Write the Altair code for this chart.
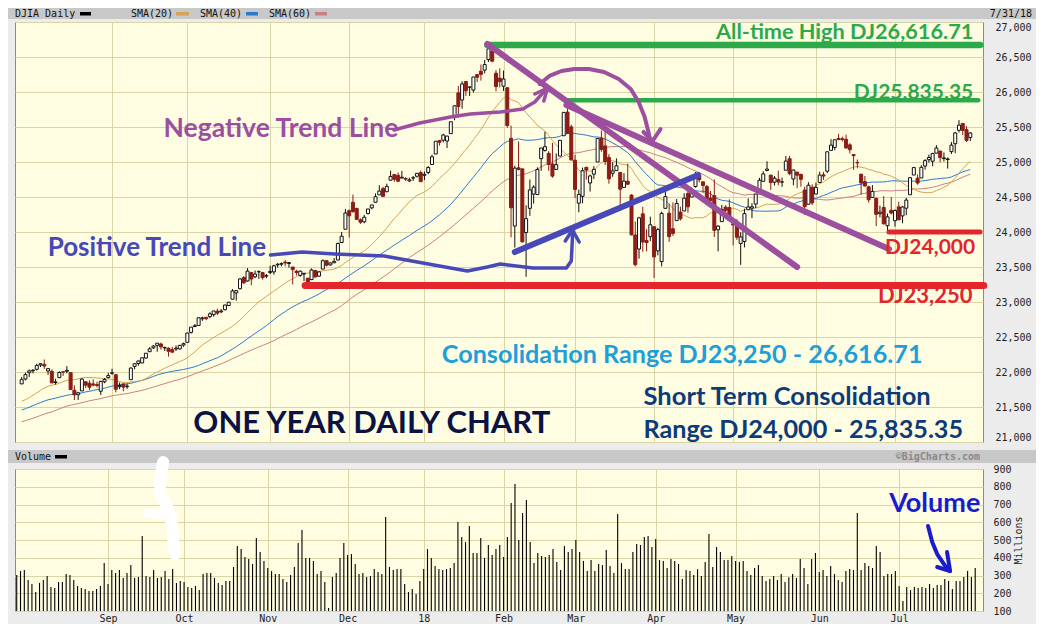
import altair as alt
import pandas as pd

# ---------------- data (trading-day index 0 = 7/31/17 ... 252 = 7/31/18) ----------------
prior_closes = [  # May 1 - Jul 28 2017, only used to start the moving averages
    20913, 20950, 20957, 20951, 21006, 21012, 20975, 20943, 20919, 20896, 20981, 20979, 20606, 20663, 20804, 20894, 20937, 20937, 21082, 21080, 21029, 21008,
    21144, 21206, 21184, 21136, 21173, 21182, 21271, 21235, 21328, 21374, 21359, 21384, 21528, 21467, 21410, 21397, 21395, 21409, 21310, 21454, 21287, 21350,
    21479, 21478, 21320, 21414, 21409, 21409, 21532, 21553, 21638, 21630, 21574, 21641, 21611, 21580, 21513, 21613, 21711, 21797, 21830,
]

opens = [
    21830,
    21900, 21990, 22017, 22038, 22100, 22110, 22015, 22010, 21850, 21920, 22003, 22010, 21990, 21740, 21675, 21730, 21860, 21840, 21830, 21820, 21725, 21860, 21920,
    21982, 21961, 21790, 21830, 21790, 21890, 22080, 22122, 22130, 22200, 22290, 22345, 22380, 22400, 22345, 22340, 22320, 22330, 22330, 22385,
    22423, 22565, 22650, 22665, 22760, 22780, 22790, 22820, 22870, 22860, 22890, 22950, 23040, 23130, 23190, 23350, 23300, 23420, 23360, 23430, 23420, 23370,
    23420, 23430, 23530, 23540, 23570, 23550, 23500, 23440, 23380, 23400, 23340, 23320, 23450, 23370, 23470, 23590, 23530, 23560, 23600, 23850, 24040,
    24305, 24424, 24335, 24175, 24145, 24265, 24345, 24425, 24530, 24620, 24575, 24740, 24820, 24810, 24770, 24765, 24729, 24771, 24796, 24849,
    24810, 24850, 24964, 25114, 25308, 25312, 25300, 25405, 25637, 25987, 25886, 26149, 26070, 26027, 26248, 26297, 26313, 26462, 26584, 26269, 26198,
    26083, 26061, 25338, 24085, 24917, 24902, 23992, 24338, 24541, 24535, 25048, 25165, 25124, 24972, 24894, 25084, 25375, 25713, 25502,
    25025, 24411, 24510, 24925, 24700, 24826, 25000, 25340, 25230, 25065, 24839, 24877, 24851, 24637, 24725, 24527, 23957, 23757, 24259, 23879, 23933,
    24076, 23730, 23578, 24338, 24269, 24046, 24163, 24285, 24300, 24552, 24500, 24650, 24811, 24717, 24651, 24484, 24519, 24032, 24148, 24356, 24349,
    24117, 24097, 23836, 23865, 24318, 24341, 24399, 24591, 24724, 24879, 24813, 24712, 24751, 24713, 24883, 25047, 24757, 24856, 24823, 24600, 24396, 24638,
    24542, 24708, 24817, 24869, 25166, 25208, 25337, 25333, 25324, 25245, 25107, 24994, 24826, 24719, 24645, 24494, 24483, 24263, 24351, 24090, 24310,
    24162, 24359, 24230, 24340, 24532, 24814, 24769, 24772, 24942, 25033, 25011, 25127, 25157, 25049, 25036, 25148, 25261, 25453, 25551, 25462, 25350,
]
highs = [
    21929,
    21990, 22036, 22041, 22118, 22123, 22179, 22053, 22035, 21905, 22010, 22014, 22084, 22000, 21810, 21717, 21910, 21870, 21880, 21895, 21860, 21875, 21915, 21988,
    22045, 21962, 21850, 21830, 21836, 22063, 22121, 22160, 22204, 22268, 22355, 22383, 22413, 22420, 22363, 22350, 22360, 22380, 22384, 22420,
    22558, 22643, 22685, 22777, 22790, 22790, 22855, 22872, 22905, 22900, 22960, 23002, 23185, 23165, 23340, 23370, 23485, 23430, 23450, 23450, 23430, 23400,
    23517, 23532, 23557, 23565, 23603, 23565, 23500, 23460, 23450, 23410, 23340, 23480, 23460, 23440, 23610, 23600, 23570, 23630, 23850, 24000, 24330,
    24322, 24534, 24349, 24193, 24245, 24330, 24387, 24552, 24669, 24646, 24690, 24876, 24831, 24850, 24872, 24784, 24777, 24800, 24839, 24877,
    24864, 24941, 25105, 25299, 25311, 25403, 25374, 25575, 25808, 26086, 26153, 26154, 26072, 26215, 26250, 26392, 26458, 26617, 26609, 26313, 26338,
    26307, 26062, 25520, 24946, 25294, 24904, 24382, 24750, 24668, 24924, 25200, 25432, 25155, 25274, 25122, 25310, 25709, 25800, 25532,
    25104, 24605, 24920, 24925, 24819, 24941, 25336, 25449, 25450, 25114, 25000, 25052, 24858, 24840, 24977, 24541, 24150, 24217, 24360, 24042, 24219,
    24076, 24061, 24290, 24623, 24405, 24423, 24472, 24363, 24553, 24622, 24633, 24858, 24852, 24717, 24668, 24586, 24752, 24099, 24387, 24383, 24466,
    24117, 24185, 23996, 24333, 24480, 24412, 24543, 24774, 24868, 25011, 24813, 24801, 24876, 24777, 25086, 25087, 24889, 24856, 24833, 24648, 24712, 24680,
    24707, 24862, 24859, 25147, 25326, 25317, 25402, 25362, 25390, 25270, 25107, 25036, 24826, 24800, 24663, 24670, 24483, 24377, 24512, 24263, 24500,
    24321, 24433, 24369, 24488, 24783, 24931, 24822, 24955, 25041, 25105, 25133, 25241, 25157, 25136, 25064, 25284, 25431, 25598, 25556, 25513, 25426,
]
lows = [
    21830,
    21880, 21929, 21981, 22023, 22071, 22043, 21960, 21844, 21820, 21913, 21944, 21981, 21750, 21600, 21600, 21730, 21770, 21740, 21795, 21780, 21673, 21840, 21910,
    21960, 21709, 21755, 21725, 21760, 21890, 22038, 22091, 22125, 22190, 22285, 22330, 22290, 22320, 22300, 22220, 22270, 22300, 22320, 22360,
    22423, 22550, 22640, 22660, 22730, 22740, 22770, 22790, 22815, 22840, 22880, 22940, 23040, 23020, 23180, 23260, 23290, 23240, 23340, 23330, 23320, 23340,
    23400, 23390, 23490, 23510, 23510, 23490, 23250, 23380, 23360, 23300, 23240, 23320, 23350, 23360, 23470, 23510, 23520, 23560, 23600, 23840, 24040,
    23922, 24278, 24170, 24116, 24125, 24250, 24325, 24425, 24530, 24508, 24570, 24740, 24718, 24715, 24770, 24728, 24715, 24730, 24780, 24719,
    24741, 24825, 24963, 25114, 25235, 25280, 25201, 25405, 25597, 25634, 25762, 25944, 25943, 25992, 26143, 26163, 26265, 26428, 26425, 26010, 26065,
    26015, 25490, 23924, 23778, 24882, 23849, 23360, 24231, 24407, 24534, 24875, 25149, 24874, 24775, 24894, 25084, 25375, 25400, 25029,
    24486, 24283, 24410, 24747, 24578, 24758, 25000, 25147, 24957, 24690, 24789, 24877, 24340, 24637, 24670, 23956, 23510, 23620, 23715, 23723, 23869,
    23344, 23667, 23509, 24338, 23858, 23943, 24163, 24165, 24300, 24276, 24500, 24633, 24708, 24556, 24406, 24410, 23928, 23724, 24148, 24232, 24163,
    23808, 23886, 23531, 23779, 24317, 24198, 24340, 24591, 24724, 24867, 24601, 24665, 24667, 24645, 24883, 24810, 24667, 24626, 24647, 24242, 24396, 24384,
    24542, 24708, 24745, 24841, 25166, 25167, 25311, 25294, 25189, 25122, 24889, 24910, 24533, 24650, 24420, 24494, 24084, 24210, 24108, 24005, 24250,
    24077, 24174, 24125, 24240, 24532, 24814, 24676, 24772, 24892, 24991, 24939, 25127, 24996, 25006, 24906, 25115, 25126, 25421, 25385, 25286, 25300,
]
closes = [
    21891,
    21963, 22016, 22026, 22092, 22118, 22085, 22048, 21844, 21858, 21993, 21998, 22024, 21750, 21674, 21703, 21899, 21812, 21783, 21813, 21808, 21865, 21892, 21948,
    21988, 21754, 21808, 21784, 21798, 22057, 22118, 22158, 22203, 22268, 22331, 22370, 22412, 22359, 22349, 22296, 22284, 22340, 22381, 22405,
    22557, 22641, 22661, 22775, 22773, 22761, 22831, 22872, 22841, 22871, 22957, 22997, 23158, 23163, 23329, 23274, 23441, 23329, 23400, 23434, 23348, 23377,
    23436, 23517, 23539, 23548, 23557, 23563, 23462, 23422, 23440, 23410, 23272, 23458, 23358, 23430, 23590, 23526, 23558, 23580, 23836, 23940, 24272,
    24231, 24290, 24180, 24140, 24211, 24329, 24386, 24504, 24585, 24509, 24651, 24792, 24754, 24726, 24782, 24754, 24746, 24775, 24838, 24719,
    24824, 24922, 25075, 25296, 25283, 25386, 25370, 25575, 25803, 25792, 26116, 26017, 26071, 26214, 26211, 26252, 26392, 26617, 26440, 26077, 26149,
    26186, 25521, 24346, 24912, 24893, 23860, 24191, 24601, 24640, 24893, 25200, 25219, 24965, 24798, 24963, 25310, 25709, 25410, 25029,
    24608, 24538, 24875, 24885, 24801, 24895, 25336, 25179, 25008, 24759, 24873, 24946, 24611, 24727, 24683, 23958, 23533, 24202, 23857, 23849, 24103,
    23644, 24034, 24265, 24505, 23933, 23979, 24408, 24189, 24483, 24360, 24573, 24787, 24748, 24665, 24463, 24449, 24024, 24084, 24322, 24311, 24163,
    24100, 23925, 23930, 24263, 24358, 24361, 24543, 24740, 24831, 24899, 24706, 24769, 24714, 24715, 25013, 24834, 24886, 24812, 24753, 24362, 24668, 24416,
    24635, 24813, 24799, 25146, 25241, 25317, 25322, 25320, 25201, 25175, 25090, 24987, 24700, 24657, 24461, 24580, 24253, 24284, 24117, 24216, 24271,
    24307, 24174, 24357, 24456, 24776, 24920, 24700, 24924, 25019, 25064, 25120, 25199, 25065, 25058, 25044, 25241, 25415, 25527, 25451, 25307, 25415,
]
# volume, millions of shares
vol_2017 = [
    303, 325, 331, 275, 252, 207, 258, 275, 297, 235, 230, 263, 263, 308, 303, 275, 241, 230, 224, 213,
    213, 224, 241, 370, 252, 331, 314, 331, 286, 314, 359, 286, 292, 523, 297, 292, 331, 286, 292, 325,
    280, 336, 258, 269, 263, 235, 230, 241, 218, 308, 314, 314, 286, 258, 247, 269, 269, 348, 466, 449,
    404, 393, 365, 511, 432, 382, 342, 325, 308, 308, 280, 263, 303, 348, 483, 556, 399, 399, 382, 308,
    325, 263, 117, 292, 314, 399, 483, 415, 421, 365, 308, 314, 292, 297, 336, 320, 308, 630, 348, 331,
    336, 336, 252, 207, 224, 196, 269, 336, 449, 399, 354, 336, 331, 336, 342, 370, 601, 517, 489, 579,
    427, 427, 511, 399, 472, 415, 449, 472, 404, 517, 708, 815, 500,
]
vol_2018 = [
    652, 725, 489, 370, 427, 410, 404, 415, 449, 376, 331, 466, 432, 449, 500, 432, 382, 325, 387, 325,
    365, 359, 444, 354, 314, 647, 370, 336, 336, 432, 478, 472, 517, 523, 461, 506, 387, 382, 342, 393,
    382, 365, 280, 331, 325, 303, 336, 297, 376, 534, 348, 461, 432, 387, 387, 410, 382, 376, 382, 325,
    303, 342, 359, 297, 269, 280, 297, 275, 308, 263, 290, 308, 286, 393, 342, 252, 393, 427, 320, 331,
    297, 354, 308, 275, 263, 325, 336, 331, 652, 331, 370, 354, 342, 466, 432, 297, 308, 308, 325, 241,
    156, 235, 218, 235, 230, 235, 230, 252, 230, 247, 247, 280, 269, 224, 269, 269, 292, 325, 292, 342,
]
volumes = vol_2017 + vol_2018

month_idx = [24, 44, 66, 87, 107, 128, 147, 168, 189, 211, 232]
month_lbl = ["Sep", "Oct", "Nov", "Dec", "18", "Feb", "Mar", "Apr", "May", "Jun", "Jul"]
price_ticks = list(range(21000, 27001, 500))
vol_ticks = list(range(100, 901, 100))

N = len(closes)
for nm, arr in (("opens", opens), ("highs", highs), ("lows", lows), ("volumes", volumes)):
    if len(arr) != N:
        raise ValueError(f"{nm} has {len(arr)} values, closes has {N}")

df = pd.DataFrame({"i": list(range(N)), "o": opens, "h": highs, "l": lows, "c": closes, "v": volumes})
sma_src = pd.DataFrame({"i": list(range(-len(prior_closes), N)), "c": prior_closes + closes})

# ---------------- hand-drawn annotations (in data units: day index, price / volume) ----------------
GREEN, RED, PURPLE, TBLUE = "#2caa4a", "#e2262b", "#9c4e9f", "#4848b9"
hlines = pd.DataFrame([
    {"i1": 123.7, "i2": 254.6, "p": 26671, "c": GREEN, "w": 6.5},
    {"i1": 144.7, "i2": 254.1, "p": 25881, "c": GREEN, "w": 4.5},
    {"i1": 230.4, "i2": 254.6, "p": 24000, "c": RED, "w": 5},
    {"i1": 75.3, "i2": 255.6, "p": 23235, "c": RED, "w": 7},
])
price_paths = {
    ("negA", PURPLE, 6): [(123.7, 26686), (206.0, 23500)],
    ("negB", PURPLE, 6): [(144.7, 25814), (230.4, 23757)],
    ("pos", TBLUE, 6): [(131.0, 23714), (179.7, 24814)],
    ("c1", PURPLE, 3.5): [(98.9, 25457), (105.7, 25557), (113.9, 25643), (119.2, 25686), (127.1, 25714),
                          (133.1, 25757), (136.3, 25857), (138.9, 26014)],
    ("h1", PURPLE, 3.5): [(136.3, 25971), (139.7, 26057), (138.7, 25871)],
    ("c2", PURPLE, 4): [(137.6, 26114), (140.2, 26229), (143.4, 26300), (146.8, 26329), (150.7, 26329),
                        (154.7, 26286), (158.6, 26186), (161.8, 26043), (163.9, 25857), (165.5, 25643),
                        (166.5, 25429), (167.0, 25300)],
    ("h2", PURPLE, 4): [(165.2, 25429), (167.6, 25300), (169.7, 25471)],
    ("bc", TBLUE, 3.5): [(66.1, 23671), (74.5, 23714), (83.2, 23686), (96.3, 23657), (109.5, 23529),
                         (118.4, 23443), (123.7, 23500), (127.1, 23543), (135.8, 23486), (144.7, 23486),
                         (146.0, 23586), (146.3, 23900), (146.3, 24014)],
    ("bh", TBLUE, 3.5): [(144.4, 23871), (146.3, 24029), (148.1, 23857)],
}
vol_paths = {
    ("w1", "#ffffff", 12): [(38.5, 939), (37.7, 844), (37.7, 759), (39.5, 692), (40.8, 590), (41.1, 506), (41.6, 421)],
    ("w2", "#ffffff", 9): [(34.5, 650), (41.0, 640)],
    ("va", "#1a1acf", 4): [(239.6, 579), (240.7, 489), (242.0, 421), (244.1, 354), (245.4, 325)],
    ("vh", "#1a1acf", 4): [(244.6, 432), (245.4, 325), (242.0, 348)],
}


def paths_df(paths):
    rows = []
    for (g, col, w), pts in paths.items():
        for k, (i, p) in enumerate(pts):
            rows.append({"g": g, "k": k, "i": i, "p": p, "c": col, "w": w})
    return pd.DataFrame(rows)


texts_left = pd.DataFrame([
    {"t": "Negative Trend Line", "i": 37.7, "p": 25357, "c": PURPLE, "fs": 26.5},
    {"t": "Positive Trend Line", "i": 6.9, "p": 23657, "c": TBLUE, "fs": 26},
    {"t": "Consolidation Range DJ23,250 - 26,616.71", "i": 111.6, "p": 22129, "c": "#1e9fd9", "fs": 25.2},
    {"t": "Short Term Consolidation", "i": 165.2, "p": 21529, "c": "#0d3b79", "fs": 25.5},
    {"t": "Range DJ24,000 - 25,835.35", "i": 165.2, "p": 21057, "c": "#0d3b79", "fs": 25.2},
    {"t": "ONE YEAR DAILY CHART", "i": 45.6, "p": 21129, "c": "#0c1244", "fs": 31},
])
texts_right = pd.DataFrame([
    {"t": "All-time High DJ26,616.71", "i": 252.8, "p": 26757, "c": GREEN, "fs": 21.7},
    {"t": "DJ25,835.35", "i": 252.8, "p": 25900, "c": GREEN, "fs": 21},
    {"t": "DJ24,000", "i": 253.3, "p": 23686, "c": RED, "fs": 21},
    {"t": "DJ23,250", "i": 252.6, "p": 22986, "c": RED, "fs": 22},
])
vol_text = pd.DataFrame([{"t": "Volume", "i": 229.4, "p": 658, "c": "#1a1acf", "fs": 27}])

# ---------------- styles ----------------
PLOT_BG = "#fefde2"
GRID = "#d9d5a6"
MONO = "DejaVu Sans Mono"
DOWN = "#8b1d16"
C20, C40, C60 = "#d4a355", "#2f78d0", "#c98080"
BAR = "#c8c8c8"

xs = alt.Scale(domain=[-0.45, 254.05], nice=False, zero=False)
ys = alt.Scale(domain=[21000, 27000], nice=False, zero=False)
vs = alt.Scale(domain=[100, 900], nice=False, zero=False)

lbl_expr = " : ".join(f"datum.value == {v} ? '{t}'" for v, t in zip(month_idx, month_lbl)) + " : ''"

ax_x_price = alt.Axis(values=month_idx, grid=True, gridColor=GRID, gridOpacity=1, labels=False,
                      ticks=False, domain=False, title=None)
ax_y_price = alt.Axis(orient="right", values=price_ticks, format=",d", grid=True, gridColor=GRID, gridOpacity=1,
                      ticks=False, domain=False, labelPadding=12, labelFont=MONO, labelFontSize=10,
                      labelColor="#222222", labelFlush=True, labelFlushOffset=0, title=None)
ax_x_vol = alt.Axis(values=month_idx, grid=True, gridColor=GRID, gridOpacity=1, labelExpr=lbl_expr,
                    ticks=False, domain=False, labelPadding=2, labelFont=MONO, labelFontSize=10,
                    labelColor="#222222", title=None)
ax_y_vol = alt.Axis(orient="right", values=vol_ticks, format="d", grid=True, gridColor=GRID, gridOpacity=1,
                    ticks=False, domain=False, labelPadding=10, labelFont=MONO, labelFontSize=10,
                    labelColor="#222222", title="Millions", titleAngle=270, titleFont=MONO,
                    titleFontSize=10, titleFontWeight="normal", titleColor="#222222", titlePadding=12)


def X(f):
    return alt.X(f, scale=xs, axis=ax_x_price)


def Y(f):
    return alt.Y(f, scale=ys, axis=ax_y_price)


def XV(f):
    return alt.X(f, scale=xs, axis=ax_x_vol)


def YV(f):
    return alt.Y(f, scale=vs, axis=ax_y_vol)


up = "datum.c >= datum.o"

# ---------------- price panel ----------------
sma = (alt.Chart(sma_src)
       .transform_window(s20="mean(c)", frame=[-19, 0], sort=[alt.SortField("i")])
       .transform_window(s40="mean(c)", frame=[-39, 0], sort=[alt.SortField("i")])
       .transform_window(s60="mean(c)", frame=[-59, 0], sort=[alt.SortField("i")])
       .transform_filter("datum.i >= 0"))
l60 = sma.mark_line(color=C60, strokeWidth=1).encode(x=X("i:Q"), y=Y("s60:Q"))
l40 = sma.mark_line(color=C40, strokeWidth=1).encode(x=X("i:Q"), y=Y("s40:Q"))
l20 = sma.mark_line(color=C20, strokeWidth=1).encode(x=X("i:Q"), y=Y("s20:Q"))

wicks = alt.Chart(df).mark_rule(strokeWidth=1).encode(
    x=X("i:Q"), y=Y("l:Q"), y2="h:Q",
    color=alt.condition(up, alt.value("#111111"), alt.value(DOWN)))
bodies = alt.Chart(df).mark_bar(size=3, strokeWidth=1).encode(
    x=X("i:Q"), y=Y("o:Q"), y2="c:Q",
    fill=alt.condition(up, alt.value("#ffffff"), alt.value(DOWN)),
    stroke=alt.condition(up, alt.value("#111111"), alt.value(DOWN)))

hl = alt.Chart(hlines).mark_rule(strokeCap="round").encode(
    x=X("i1:Q"), x2="i2:Q", y=Y("p:Q"),
    color=alt.Color("c:N", scale=None), strokeWidth=alt.StrokeWidth("w:Q", scale=None))
pp = alt.Chart(paths_df(price_paths)).mark_line(strokeCap="round", strokeJoin="round").encode(
    x=X("i:Q"), y=Y("p:Q"), detail="g:N", order="k:Q",
    color=alt.Color("c:N", scale=None), strokeWidth=alt.StrokeWidth("w:Q", scale=None))
tl = alt.Chart(texts_left).mark_text(font="Lato", fontWeight="bold", align="left", baseline="alphabetic").encode(
    x=X("i:Q"), y=Y("p:Q"), text="t:N", color=alt.Color("c:N", scale=None), size=alt.Size("fs:Q", scale=None))
tr = alt.Chart(texts_right).mark_text(font="Lato", fontWeight="bold", align="right", baseline="alphabetic").encode(
    x=X("i:Q"), y=Y("p:Q"), text="t:N", color=alt.Color("c:N", scale=None), size=alt.Size("fs:Q", scale=None))

price = alt.layer(l60, l40, l20, wicks, bodies, hl, pp, tl, tr).properties(
    width=968, height=420, view=alt.ViewBackground(fill=PLOT_BG, stroke="#8a8a8a", strokeWidth=1))

# ---------------- volume panel ----------------
vbars = alt.Chart(df).mark_rule(color="#000000", strokeWidth=1.1).encode(
    x=XV("i:Q"), y=YV("v:Q"), y2=alt.datum(100))
vp = alt.Chart(paths_df(vol_paths)).mark_line(strokeCap="round", strokeJoin="round").encode(
    x=XV("i:Q"), y=YV("p:Q"), detail="g:N", order="k:Q",
    color=alt.Color("c:N", scale=None), strokeWidth=alt.StrokeWidth("w:Q", scale=None))
vt = alt.Chart(vol_text).mark_text(font="Lato", fontWeight="bold", align="left", baseline="alphabetic").encode(
    x=XV("i:Q"), y=YV("p:Q"), text="t:N", color=alt.Color("c:N", scale=None), size=alt.Size("fs:Q", scale=None))
volume = alt.layer(vbars, vp, vt).properties(
    width=968, height=142, view=alt.ViewBackground(fill=PLOT_BG, stroke="#8a8a8a", strokeWidth=1))

# ---------------- header bars ----------------
one = pd.DataFrame({"k": [0]})


def txt(s, x, y, align="left", weight="normal", color="#111111"):
    return alt.Chart(one).mark_text(font=MONO, fontSize=10, align=align, baseline="middle",
                                    fontWeight=weight, color=color).encode(
        x=alt.value(x), y=alt.value(y), text=alt.value(s))


def box(x1, x2, y1, y2, color):
    return alt.Chart(one).mark_rect(color=color).encode(
        x=alt.value(x1), x2=alt.value(x2), y=alt.value(y1), y2=alt.value(y2))


header1 = alt.layer(
    box(-7, 1021, 0, 11, BAR),
    txt("DJIA Daily", 0, 5.5), box(65, 76, 4, 7.5, "#000000"),
    txt("SMA(20)", 116, 5.5), box(161, 174, 4, 7.5, C20),
    txt("SMA(40)", 185, 5.5), box(231, 243, 4, 7.5, C40),
    txt("SMA(60)", 254, 5.5), box(300, 312, 4, 7.5, C60),
    txt("7/31/18", 1017, 5.5, align="right"),
).properties(width=1014, height=14, view=alt.ViewBackground(strokeOpacity=0))

header2 = alt.layer(
    box(-7, 1021, 8, 21, BAR),
    txt("Volume", 0, 14.5), box(40, 52, 13, 16.5, "#000000"),
    txt("\u00a9BigCharts.com", 965, 14.5, align="right", weight="bold", color="#888888"),
).properties(width=1014, height=27, view=alt.ViewBackground(strokeOpacity=0))

chart = alt.VConcatChart(
    vconcat=[header1, price, header2, volume], spacing=0, bounds="flush",
).properties(
    background="#ececec",
    padding={"left": 0, "top": 0, "right": 0, "bottom": 0},
)

chart.save("out.html", embed_options={"renderer": "svg", "actions": False})
